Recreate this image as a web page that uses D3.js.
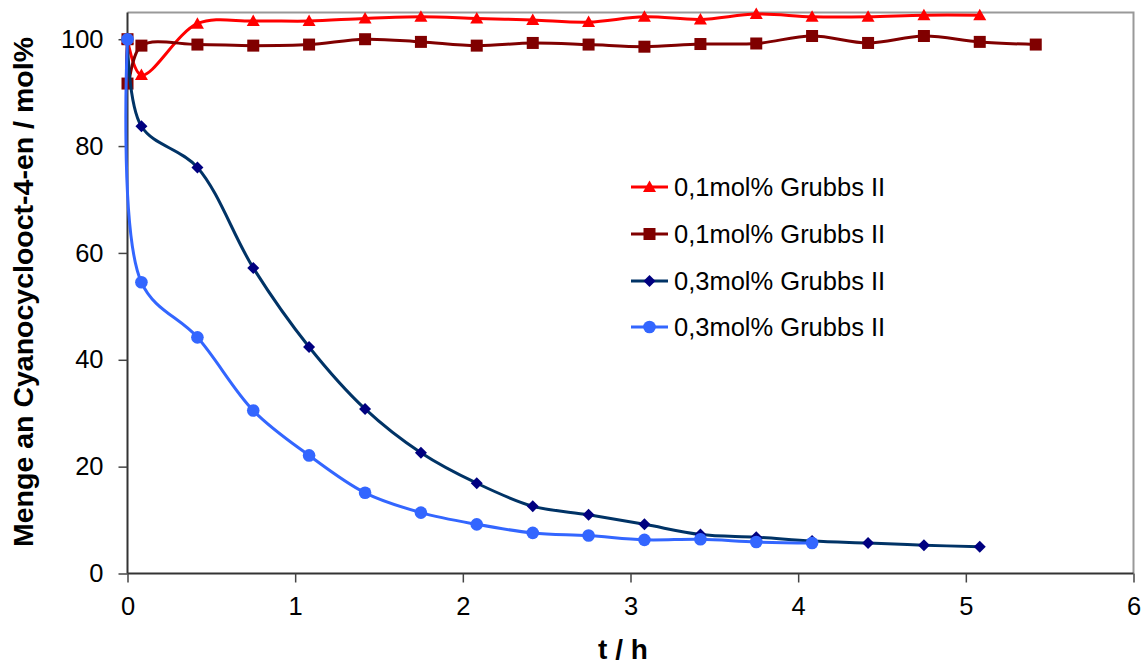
<!DOCTYPE html>
<html>
<head>
<meta charset="utf-8">
<script src="https://cdn.jsdelivr.net/npm/d3@7"></script>
<style>
  html, body { margin: 0; padding: 0; background: #fff; }
  svg { display: block; font-family: "Liberation Sans", Arial, sans-serif; }
</style>
</head>
<body>
<svg id="chart" width="1145" height="666"></svg>
<script>
// ---- data ----
const timeH = [0, 0.083, 0.417, 0.75, 1.083, 1.417, 1.75, 2.083, 2.417, 2.75, 3.083, 3.417, 3.75, 4.083, 4.417, 4.75, 5.083, 5.417];

const seriesNames = ["0,1mol% Grubbs II", "0,1mol% Grubbs II", "0,3mol% Grubbs II", "0,3mol% Grubbs II"];

// red triangles
const tri01X = [0, 0.083, 0.417, 0.75, 1.083, 1.417, 1.75, 2.083, 2.417, 2.75, 3.083, 3.417, 3.75, 4.083, 4.417, 4.75, 5.083];
const tri01Y = [100, 93.3, 102.9, 103.4, 103.4, 103.9, 104.2, 103.9, 103.6, 103.2, 104.2, 103.7, 104.7, 104.2, 104.2, 104.5, 104.5];

// dark red squares
const sq01X = [0, 0, 0.083, 0.417, 0.75, 1.083, 1.417, 1.75, 2.083, 2.417, 2.75, 3.083, 3.417, 3.75, 4.083, 4.417, 4.75, 5.083, 5.417];
const sq01Y = [100, 91.7, 98.8, 99.0, 98.8, 99.0, 100.0, 99.5, 98.8, 99.3, 99.0, 98.6, 99.1, 99.2, 100.6, 99.3, 100.6, 99.5, 99.0];

// navy diamonds
const dia03X = [0, 0.083, 0.417, 0.75, 1.083, 1.417, 1.75, 2.083, 2.417, 2.75, 3.083, 3.417, 3.75, 4.083, 4.417, 4.75, 5.083];
const dia03Y = [100, 83.7, 76.0, 57.2, 42.4, 30.8, 22.6, 16.9, 12.6, 11.0, 9.2, 7.3, 6.8, 6.1, 5.7, 5.3, 5.0];

// light blue circles
const cir03X = [0, 0.083, 0.417, 0.75, 1.083, 1.417, 1.75, 2.083, 2.417, 2.75, 3.083, 3.417, 3.75, 4.083];
const cir03Y = [100, 54.5, 44.2, 30.5, 22.1, 15.1, 11.4, 9.2, 7.6, 7.1, 6.3, 6.4, 5.9, 5.7];

const xTicks = [0, 1, 2, 3, 4, 5, 6];
const yTicks = [0, 20, 40, 60, 80, 100];

const xTitle = "t / h";
const yTitle = "Menge an Cyanocyclooct-4-en / mol%";

// ---- layout ----
const svg = d3.select("#chart");
const L = 127.5, R = 1133.5, T = 12.5, B = 573.5;

const x = d3.scaleLinear().domain([0, 6]).range([L, R]);
const y = d3.scaleLinear().domain([0, 105]).range([B, T]);

// frame (top/right gray)
svg.append("path")
  .attr("d", `M${L},${T}H${R}V${B}`)
  .attr("fill", "none").attr("stroke", "#999").attr("stroke-width", 2);

// axes
const xAxis = svg.append("g").attr("transform", `translate(0,${B})`)
  .call(d3.axisBottom(x).tickValues(xTicks).tickSize(9).tickPadding(14).tickFormat(d3.format("d")));
const yAxis = svg.append("g").attr("transform", `translate(${L},0)`)
  .call(d3.axisLeft(y).tickValues(yTicks).tickSize(9).tickPadding(15).tickFormat(d3.format("d")));

[xAxis, yAxis].forEach(g => {
  g.select(".domain").attr("stroke", "#333").attr("stroke-width", 2);
  g.selectAll(".tick line").attr("stroke", "#444").attr("stroke-width", 1.5);
  g.selectAll(".tick text").attr("font-size", 25.5).attr("fill", "#000")
    .attr("font-family", "'Liberation Sans', Arial, sans-serif");
});
xAxis.select(".domain").attr("d", `M${L},0H${R}`);
yAxis.select(".domain").attr("d", `M0,${B}V${T}`);

// titles
svg.append("text").attr("x", 623).attr("y", 659)
  .attr("text-anchor", "middle").attr("font-weight", "bold").attr("font-size", 28)
  .text(xTitle);
svg.append("text").attr("transform", "translate(33,292) rotate(-90)")
  .attr("text-anchor", "middle").attr("font-weight", "bold").attr("font-size", 28.5)
  .text(yTitle);

// ---- series ----
const series = [
  { xs: tri01X, ys: tri01Y, line: "#ff0000", fill: "#ff0000", shape: "triangle" },
  { xs: sq01X, ys: sq01Y, line: "#800000", fill: "#800000", shape: "square" },
  { xs: dia03X, ys: dia03Y, line: "#003366", fill: "#000080", shape: "diamond" },
  { xs: cir03X, ys: cir03Y, line: "#3366ff", fill: "#3366ff", shape: "circle" }
];

function marker(g, shape, fill) {
  if (shape === "triangle") {
    g.append("path").attr("d", "M0,-6.5L6.5,5L-6.5,5Z").attr("fill", fill);
  } else if (shape === "square") {
    g.append("rect").attr("x", -6).attr("y", -6).attr("width", 12).attr("height", 12).attr("fill", fill);
  } else if (shape === "diamond") {
    g.append("path").attr("d", "M0,-6L6,0L0,6L-6,0Z").attr("fill", fill);
  } else {
    g.append("circle").attr("r", 6.3).attr("fill", fill);
  }
}

const lineGen = d3.line().x(d => x(d[0])).y(d => y(d[1])).curve(d3.curveCatmullRom.alpha(0.5));

series.forEach(s => {
  const pts = s.xs.map((v, i) => [v, s.ys[i]]);
  svg.append("path").datum(pts).attr("d", lineGen)
    .attr("fill", "none").attr("stroke", s.line).attr("stroke-width", 3)
    .attr("stroke-linejoin", "round");
  pts.forEach(p => {
    const g = svg.append("g").attr("transform", `translate(${x(p[0])},${y(p[1])})`);
    marker(g, s.shape, s.fill);
  });
});

// ---- legend ----
const legendY = [187, 234, 281, 327];
series.forEach((s, i) => {
  const gy = legendY[i];
  svg.append("line").attr("x1", 631).attr("x2", 668).attr("y1", gy).attr("y2", gy)
    .attr("stroke", s.line).attr("stroke-width", 3);
  const g = svg.append("g").attr("transform", `translate(649.5,${gy})`);
  marker(g, s.shape, s.fill);
  svg.append("text").attr("x", 674).attr("y", gy + 9).attr("font-size", 25.5).attr("fill", "#000")
    .text(seriesNames[i]);
});
</script>
</body>
</html>
